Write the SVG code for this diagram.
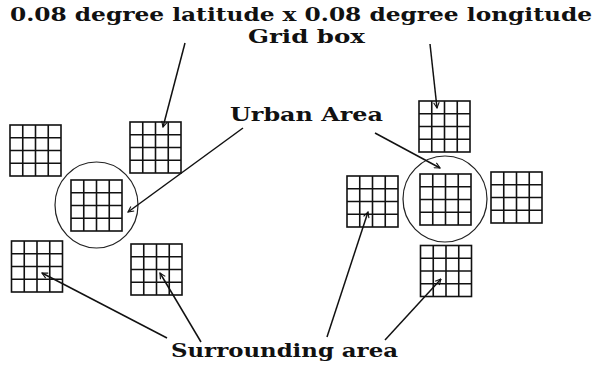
<svg xmlns="http://www.w3.org/2000/svg" width="597" height="367" viewBox="0 0 597 367">
<defs>
<style>
.t{font-family:"DejaVu Serif","Liberation Serif",serif;font-weight:bold;fill:#111;}
.g rect,.g line{fill:none;stroke:#111;stroke-width:1.6;}
.c{fill:none;stroke:#222;stroke-width:1.2;}
.a{fill:none;stroke:#111;stroke-width:1.5;marker-end:url(#ah);}
</style>
<marker id="ah" viewBox="0 0 10 10" refX="9" refY="5" markerWidth="7" markerHeight="7" markerUnits="userSpaceOnUse" orient="auto">
<path d="M1,1 L9,5 L1,9" fill="none" stroke="#111" stroke-width="1.6"/>
</marker>
<g id="grid" class="g">
<rect x="0" y="0" width="51" height="51"/>
<line x1="12.75" y1="0" x2="12.75" y2="51"/>
<line x1="25.5" y1="0" x2="25.5" y2="51"/>
<line x1="38.25" y1="0" x2="38.25" y2="51"/>
<line x1="0" y1="12.75" x2="51" y2="12.75"/>
<line x1="0" y1="25.5" x2="51" y2="25.5"/>
<line x1="0" y1="38.25" x2="51" y2="38.25"/>
</g>
</defs>
<rect width="597" height="367" fill="#fff"/>
<g id="labels">
<text class="t" x="10" y="21" font-size="18" textLength="582" lengthAdjust="spacingAndGlyphs">0.08 degree latitude x 0.08 degree longitude</text>
<text class="t" x="248" y="43" font-size="18" textLength="117" lengthAdjust="spacingAndGlyphs">Grid box</text>
<text class="t" x="230" y="121" font-size="18" textLength="153" lengthAdjust="spacingAndGlyphs">Urban Area</text>
<text class="t" x="171" y="357" font-size="18" textLength="227" lengthAdjust="spacingAndGlyphs">Surrounding area</text>
</g>
<g id="left-cluster">
<g id="L-topleft"><use href="#grid" x="10" y="125"/></g>
<g id="L-topright"><use href="#grid" x="130" y="122"/></g>
<g id="L-urban"><ellipse class="c" cx="96.5" cy="205" rx="41.5" ry="43"/><use href="#grid" x="71" y="180"/></g>
<g id="L-bottomleft"><use href="#grid" x="11.5" y="241"/></g>
<g id="L-bottomright"><use href="#grid" x="131" y="244"/></g>
</g>
<g id="right-cluster">
<g id="R-top"><use href="#grid" x="419" y="101"/></g>
<g id="R-urban"><ellipse class="c" cx="445" cy="199" rx="42" ry="43"/><use href="#grid" x="420" y="174"/></g>
<g id="R-left"><use href="#grid" x="347" y="176"/></g>
<g id="R-right"><use href="#grid" x="491" y="172"/></g>
<g id="R-bottom"><use href="#grid" x="420.5" y="245.5"/></g>
</g>
<g id="connectors">
<line class="a" x1="185" y1="43" x2="163" y2="127"/>
<line class="a" x1="430" y1="44" x2="437" y2="108"/>
<line class="a" x1="243" y1="128" x2="128" y2="212"/>
<line class="a" x1="375" y1="133" x2="440" y2="168"/>
<line class="a" x1="167" y1="338" x2="42" y2="273"/>
<line class="a" x1="201" y1="342" x2="160" y2="273"/>
<line class="a" x1="327" y1="337" x2="368" y2="212"/>
<line class="a" x1="385" y1="340" x2="441" y2="279"/>
</g>
</svg>
